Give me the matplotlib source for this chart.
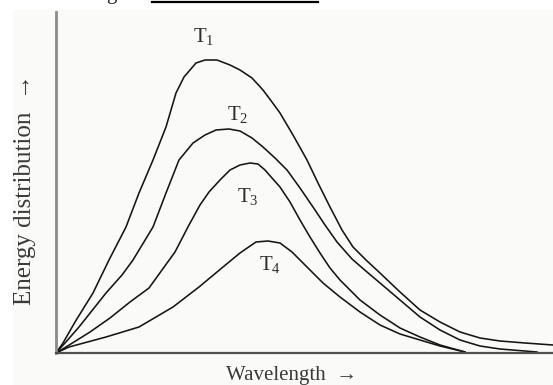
import matplotlib
matplotlib.use("Agg")
import matplotlib.pyplot as plt
from matplotlib.patches import Rectangle
from matplotlib.lines import Line2D

plt.rcParams["mathtext.fontset"] = "custom"
plt.rcParams["mathtext.rm"] = "Liberation Serif"
plt.rcParams["mathtext.it"] = "Liberation Serif:italic"

# Black-body style energy distribution curves (arbitrary units)
t1_wavelength = [0, 7, 19, 37, 53, 70, 83, 97, 110, 115, 120, 128, 140, 149, 161, 174, 184,
                 196, 207, 216, 224, 237, 251, 262, 274, 286, 297, 310, 324, 344, 364, 384,
                 404, 424, 444, 469, 497]
t1_energy = [0, 10, 31, 60, 93, 126, 160, 193, 226, 243, 260, 276, 290, 293, 293, 288, 283,
             275, 263, 251, 240, 218, 193, 170, 146, 123, 106, 93, 80, 61, 43, 31,
             21, 15, 12, 10, 8]

t2_wavelength = [0, 9, 23, 50, 66, 77, 97, 110, 123, 137, 149, 160, 173, 184, 196, 207, 219,
                 231, 244, 257, 269, 281, 296, 311, 324, 344, 364, 384, 404, 424, 444, 481]
t2_energy = [0, 10, 26, 60, 78, 93, 126, 160, 193, 210, 218, 223, 224, 222, 215, 206, 195,
             183, 165, 146, 128, 111, 94, 81, 70, 53, 36, 23, 13, 7, 4, 1]

t3_wavelength = [0, 10, 34, 54, 74, 93, 106, 119, 133, 144, 153, 164, 174, 184, 194, 202, 209,
                 216, 224, 234, 244, 254, 264, 274, 284, 294, 304, 324, 344, 364, 384, 409]
t3_energy = [0, 6, 21, 35, 51, 65, 83, 101, 128, 148, 161, 173, 183, 188, 190, 189, 183,
             175, 166, 151, 133, 116, 100, 85, 73, 63, 53, 38, 25, 16, 8, 1]

t4_wavelength = [0, 13, 50, 83, 117, 143, 167, 184, 200, 212, 224, 236, 247, 257, 267, 284,
                 304, 324, 344, 364, 384, 409]
t4_energy = [0, 6, 16, 26, 46, 66, 86, 100, 111, 112, 110, 101, 90, 80, 70, 56,
             41, 28, 19, 13, 7, 1]

curves = [
    (r"$\mathrm{T}_1$", t1_wavelength, t1_energy, (137, 311)),
    (r"$\mathrm{T}_2$", t2_wavelength, t2_energy, (171, 233)),
    (r"$\mathrm{T}_3$", t3_wavelength, t3_energy, (181, 151)),
    (r"$\mathrm{T}_4$", t4_wavelength, t4_energy, (203, 83)),
]

W, H = 553, 385
fig = plt.figure(figsize=(W / 100, H / 100), dpi=100)
fig.patch.set_facecolor("white")

# light paper tone behind the diagram
fig.patches.append(Rectangle((13 / W, 0), 1, 1 - 10 / H, transform=fig.transFigure,
                             facecolor="#fafaf8", edgecolor="none", zorder=-10))

# fragment of the worksheet line above the diagram
fig.text(106 / W, 1 + 1.5 / H, "g", fontsize=15, family="Liberation Serif",
         color="#222222", ha="left", va="baseline")
fig.lines.append(Line2D([152 / W, 318 / W], [1 - 1.5 / H, 1 - 1.5 / H],
                        transform=fig.transFigure, color="black", lw=1.6))

ax = fig.add_axes([56 / W, 32 / H, (W - 56) / W, (353 - 12) / H])
ax.set_facecolor("none")
ax.set_xlim(0, 497)
ax.set_ylim(0, 341)

for label, wl, en, pos in curves:
    ax.plot(wl, en, color="#151515", lw=1.15, solid_joinstyle="round")
    ax.text(pos[0], pos[1], label, fontsize=15, color="#2e2e2e",
            ha="left", va="baseline")

for side in ("top", "right"):
    ax.spines[side].set_visible(False)
ax.spines["left"].set_color("#8c8c8c")
ax.spines["left"].set_linewidth(2.0)
ax.spines["bottom"].set_color("#505050")
ax.spines["bottom"].set_linewidth(1.6)
ax.set_xticks([])
ax.set_yticks([])

fig.text(25 / W, 1 - 190 / H, "Energy distribution  \u2192", rotation=90,
         fontsize=18, family=["Liberation Serif", "DejaVu Serif"], color="#3a3a3a",
         ha="center", va="center")
fig.text(292 / W, 5 / H, "Wavelength  \u2192", fontsize=15,
         family=["Liberation Serif", "DejaVu Serif"], color="#3a3a3a",
         ha="center", va="baseline")

fig.savefig("out.png", dpi=100, facecolor=fig.get_facecolor())
